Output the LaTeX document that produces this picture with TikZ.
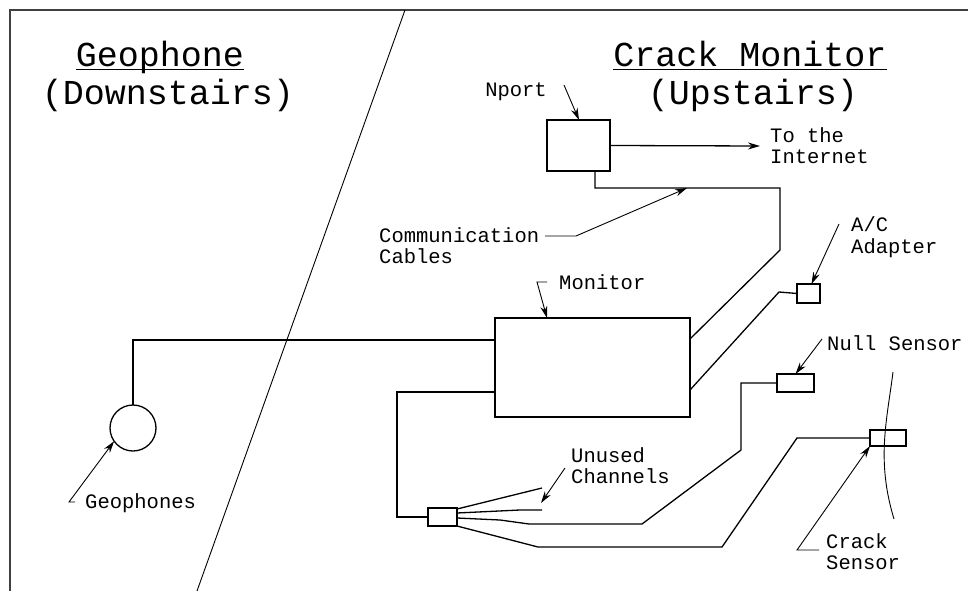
\documentclass[tikz,border=0pt]{standalone}
\usepackage{fontspec}
\setmonofont{Liberation Mono}
\usetikzlibrary{calc,arrows.meta}
\begin{document}
\begin{tikzpicture}[x=1pt,y=-1pt,
  wire/.style={line width=1.3pt,black},
  lead/.style={line width=0.9pt,black,-{Stealth[length=12pt,width=7pt]}},
  frameline/.style={line width=1.8pt,black!75},
  divider/.style={line width=0.9pt,black},
  boxnode/.style={draw,line width=1.3pt,inner sep=0pt,outer sep=0pt},
  lbl/.style={font=\fontsize{20.5}{22}\selectfont\ttfamily,inner sep=0pt,anchor=base west},
  ttl/.style={font=\fontsize{35}{36}\selectfont\ttfamily,inner sep=0pt,anchor=base}]
\useasboundingbox (0,0) rectangle (968,591);
% frame and divider
\draw[frameline] (10,591) -- (10,10) -- (968,10);
\draw[divider] (405,10) -- (197,591);
% titles
\node[ttl] (geo) at (160,67) {Geophone};
\draw[line width=1pt] ($(geo.base west)+(0,3)$) -- ($(geo.base east)+(0,3)$);
\node[ttl] (down) at (168,105) {(Downstairs)};
\node[ttl] (crk) at (750,67) {Crack Monitor};
\draw[line width=1pt] ($(crk.base west)+(0,3)$) -- ($(crk.base east)+(0,3)$);
\node[ttl] (up) at (753,105) {(Upstairs)};
% boxes
\node[boxnode,minimum width=63pt,minimum height=51pt] (nport) at (578.5,145.5) {};
\node[boxnode,minimum width=195pt,minimum height=99pt] (monitor) at (592.5,367.5) {};
\node[boxnode,minimum width=23pt,minimum height=19pt] (ac) at (808.5,293.5) {};
\node[boxnode,minimum width=37pt,minimum height=18pt] (null) at (795.5,383) {};
\node[boxnode,minimum width=36pt,minimum height=16pt] (crackbox) at (888,438) {};
\node[boxnode,minimum width=29pt,minimum height=18pt] (fan) at (442.5,517) {};
\node[draw,circle,line width=1.3pt,minimum size=46pt,inner sep=0pt,outer sep=0pt] (gp) at (133,428) {};
% labels
\node[lbl,anchor=base east] (nportlbl) at (547,97) {Nport};
\node[lbl] (inet1) at (770,142) {To the};
\node[lbl] (inet2) at (770,163) {Internet};
\node[lbl] (comm1) at (379,242) {Communication};
\node[lbl] (comm2) at (379,263) {Cables};
\node[lbl] (monlbl) at (559,289) {Monitor};
\node[lbl] (ac1) at (851,231) {A/C};
\node[lbl] (ac2) at (851,253) {Adapter};
\node[lbl] (nulllbl) at (827,350) {Null Sensor};
\node[lbl] (un1) at (571,462) {Unused};
\node[lbl] (un2) at (571,483) {Channels};
\node[lbl] (geolbl) at (85,508) {Geophones};
\node[lbl] (cs1) at (826,548) {Crack};
\node[lbl] (cs2) at (826,569) {Sensor};
% free ends
\coordinate (inetend) at (760,146);
\coordinate (u1) at (542,488);
\coordinate (u2) at (542,510);
\coordinate (nportlead) at (564,85);
\coordinate (monlead) at (547,282);
\coordinate (commlead) at (545,236);
\coordinate (aclead) at (839,224);
\coordinate (nulllead) at (822,339);
\coordinate (unlead) at (565,468);
\coordinate (geolead) at (75,502);
\coordinate (cslead) at (819,550);
% wires
\draw[wire,-{Stealth[length=12pt,width=7pt]}] (nport.east) -- (inetend);
\draw[wire] ($(nport.south west)+(48,0)$) -- (595,188) -- (780,188) -- (780,250) -- ($(monitor.north east)+(0,21)$);
\draw[wire] ($(monitor.north east)+(0,72)$) -- (779,292) -- (ac.west);
\draw[wire] (gp.north) |- ($(monitor.north west)+(0,22)$);
\draw[wire] ($(monitor.north west)+(0,74)$) -- (397,392) |- (fan.west);
\draw[wire] ($(fan.north east)+(0,1)$) -- (u1);
\draw[wire] ($(fan.north east)+(0,5)$) -- (520,510) -- (u2);
\draw[wire] ($(fan.east)+(0,1)$) -- (500,520) -- (529,524) -- (642,524) -- (741,450) -- (741,383) -- (null.west);
\draw[wire] (fan.south east) -- (538,547) -- (722,547) -- (797,438) -- (crackbox.west);
% crack
\draw[divider] (893,372) .. controls (887,420) and (876,460) .. (894,519);
% leaders
\draw[lead] (nportlead) -- ($(nport.north west)+(32,0)$);
\draw[lead] (monlead) -- (537,282) -- ($(monitor.north west)+(52,0)$);
\draw[lead] (commlead) -- (576,236) -- (687,188);
\draw[lead] (aclead) -- ($(ac.north)+(3,0)$);
\draw[lead] (nulllead) -- (null.north);
\draw[lead] (unlead) -- (541,503);
\draw[lead] (geolead) -- (69,502) -- (gp.215);
\draw[lead] (cslead) -- (797,550) -- (crackbox.south west);
\end{tikzpicture}
\end{document}
